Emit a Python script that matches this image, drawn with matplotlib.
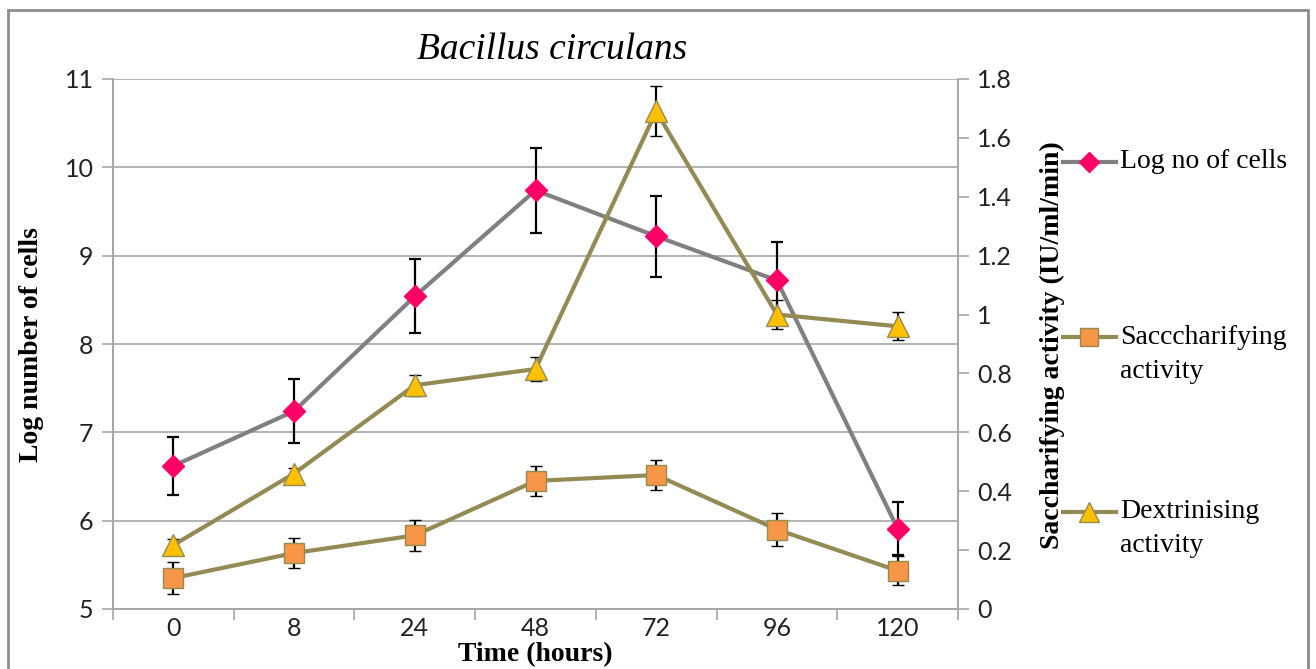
import numpy as np
import matplotlib
matplotlib.use("Agg")
import matplotlib.pyplot as plt
from matplotlib.lines import Line2D
from matplotlib.patches import Rectangle

# data
hours = ["0", "8", "24", "48", "72", "96", "120"]
log_cells = [6.62, 7.24, 8.54, 9.74, 9.22, 8.72, 5.91]
log_cells_err = [0.33, 0.36, 0.42, 0.48, 0.46, 0.43, 0.30]
sacch = [0.105, 0.19, 0.25, 0.435, 0.455, 0.27, 0.13]
sacch_err = [0.055, 0.05, 0.053, 0.05, 0.05, 0.055, 0.05]
dextr = [0.217, 0.46, 0.76, 0.815, 1.69, 1.0, 0.96]
dextr_err = [0.02, 0.02, 0.035, 0.04, 0.085, 0.05, 0.047]

left_ticks = [5, 6, 7, 8, 9, 10, 11]
right_ticks = [0, 0.2, 0.4, 0.6, 0.8, 1, 1.2, 1.4, 1.6, 1.8]
right_labels = ["0", "0.2", "0.4", "0.6", "0.8", "1", "1.2", "1.4", "1.6", "1.8"]

serif = "Liberation Serif"
sans = "Lato"
grey_axis = "#a6a6a6"
olive = "#948a54"

fig = plt.figure(figsize=(13.16, 6.69), dpi=100)
ax = fig.add_axes([113 / 1316, 60 / 669, 845 / 1316, 530 / 669])
ax2 = ax.twinx()

x = np.arange(len(hours))

ax.errorbar(x, log_cells, yerr=log_cells_err, color="#808080", lw=3,
            marker="D", ms=11, mfc="#ff0066", mec="#ff0066",
            ecolor="black", elinewidth=1.6, capsize=4, capthick=1.6, zorder=3)
ax2.errorbar(x, sacch, yerr=sacch_err, color=olive, lw=3,
             marker="s", ms=14, mfc="#f79646", mec=olive, mew=1,
             ecolor="black", elinewidth=1.6, capsize=4, capthick=1.6, zorder=3)
ax2.errorbar(x, dextr, yerr=dextr_err, color=olive, lw=3,
             marker="^", ms=16, mfc="#ffc000", mec=olive, mew=1,
             ecolor="black", elinewidth=1.6, capsize=4, capthick=1.6, zorder=3)

ax.set_xlim(-0.5, len(hours) - 0.5)
ax.set_ylim(5, 11)
ax2.set_ylim(0, 1.8)
ax.set_yticks(left_ticks)
ax2.set_yticks(right_ticks)
ax2.set_yticklabels(right_labels)
ax.set_xticks(x)
ax.set_xticklabels(hours)
ax.set_xticks(np.arange(len(hours) + 1) - 0.5, minor=True)
ax.tick_params(axis="x", which="major", length=0, pad=6)
ax.tick_params(axis="x", which="minor", length=8, color=grey_axis, width=1.2)
ax.tick_params(axis="y", length=8, color=grey_axis, width=1.2, pad=6)
ax2.tick_params(axis="y", length=8, color=grey_axis, width=1.2, pad=6)
for a in (ax, ax2):
    for lab in a.get_xticklabels() + a.get_yticklabels():
        lab.set_fontfamily(sans)
        lab.set_fontsize(18)
        lab.set_color("#222222")

ax.grid(axis="y", color=grey_axis, lw=1.2)
ax.set_axisbelow(True)
for a in (ax, ax2):
    a.spines["top"].set_visible(False)
    for s in ("left", "right", "bottom"):
        a.spines[s].set_color(grey_axis)
        a.spines[s].set_linewidth(1.2)

fig.text(552 / 1316, 1 - 50 / 669, "Bacillus circulans", family=serif,
         style="italic", fontsize=27, ha="center", va="center")
fig.text(32 / 1316, 1 - 345 / 669, "Log number of cells", family=serif,
         weight="bold", fontsize=20, rotation=90, ha="center", va="center")
fig.text(1052 / 1316, 1 - 345 / 669, "Saccharifying activity (IU/ml/min)",
         family=serif, weight="bold", fontsize=20, rotation=90,
         ha="center", va="center")
fig.text(535 / 1316, 1 - 655 / 669, "Time (hours)", family=serif,
         weight="bold", fontsize=20, ha="center", va="center")

# legend, Excel-like: handle lines up with the first line of the label
legend_items = [
    (["Log no of cells"], "#808080", "D", "#ff0066", "#ff0066", 10, 162),
    (["Saccc" + "harifying", "activity"], olive, "s", "#f79646", olive, 13, 337),
    (["Dextrinising", "activity"], olive, "^", "#ffc000", olive, 14, 512),
]
for lines, lc, mk, fc, ec, ms, yp in legend_items:
    yf = 1 - yp / 669
    fig.add_artist(Line2D([1063 / 1316, 1116 / 1316], [yf, yf], color=lc,
                          lw=3, transform=fig.transFigure))
    fig.add_artist(Line2D([1089 / 1316], [yf], marker=mk, ms=ms, mfc=fc,
                          mec=ec, transform=fig.transFigure))
    for i, t in enumerate(lines):
        fig.text(1120 / 1316, yf - i * 34 / 669, t, family=serif, fontsize=20,
                 ha="left", va="center")

fig.patches.append(Rectangle((8 / 1316, -0.05), 1300 / 1316, 1.05 - 10 / 669,
                             transform=fig.transFigure, fill=False,
                             ec="#8c8c8c", lw=2))

fig.savefig("out.png", dpi=100)
